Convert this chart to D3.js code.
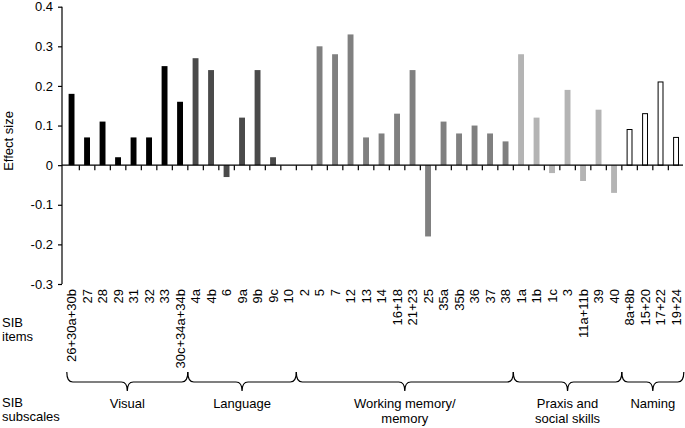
<!DOCTYPE html>
<html><head><meta charset="utf-8">
<script src="https://cdn.jsdelivr.net/npm/d3@7"></script>
<style>
body{margin:0;background:#fff;}
text{font-family:"Liberation Sans",Arial,Helvetica,sans-serif;fill:#000;}
</style></head>
<body>
<svg id="c" width="685" height="428"></svg>
<script>
const items = ["26+30a+30b","27","28","29","31","32","33","30c+34a+34b",
  "4a","4b","6","9a","9b","9c","10",
  "2","5","7","12","13","14","16+18","21+23","25","35a","35b","36","37","38",
  "1a","1b","1c","3","11a+11b","39","40",
  "8a+8b","15+20","17+22","19+24"];
const effects = [0.18,0.07,0.11,0.02,0.07,0.07,0.25,0.16,
  0.27,0.24,-0.03,0.12,0.24,0.02,0,
  0,0.30,0.28,0.33,0.07,0.08,0.13,0.24,-0.18,0.11,0.08,0.10,0.08,0.06,
  0.28,0.12,-0.02,0.19,-0.04,0.14,-0.07,
  0.09,0.13,0.21,0.07];
const subscales = ["Visual","Language","Working memory/\nmemory","Praxis and\nsocial skills","Naming"];
const subscaleSizes = [8,7,14,7,4];
const subscaleFills = ["#000000","#4a4a4a","#808080","#b4b4b4","#ffffff"];
const yTicks = [-0.3,-0.2,-0.1,0,0.1,0.2,0.3,0.4];
const yTickLabels = ["-0.3","-0.2","-0.1","0","0.1","0.2","0.3","0.4"];

const svg = d3.select("#c");
const x = d3.scaleBand().domain(items).range([63.8,683.8]).paddingInner(0.62).paddingOuter(0.31);
const step = x.step();
const y = d3.scaleLinear().domain([-0.3,0.4]).range([284,6.7]);

const groupOf = [];
subscaleSizes.forEach((n,g)=>{for(let i=0;i<n;i++) groupOf.push(g);});
const data = items.map((it,i)=>({item:it,v:effects[i],g:groupOf[i]}));

// bars
svg.append("g").selectAll("rect").data(data.filter(d=>d.v!==0)).join("rect")
  .attr("x",d=>x(d.item)+(d.g===4?0.5:0))
  .attr("width",d=>x.bandwidth()-(d.g===4?1:0))
  .attr("y",d=>y(Math.max(0,d.v)))
  .attr("height",d=>Math.abs(y(d.v)-y(0)))
  .attr("fill",d=>subscaleFills[d.g])
  .attr("stroke",d=>d.g===4?"#000":"none")
  .attr("stroke-width",1);

// y axis
const ya = svg.append("g").attr("transform","translate(62,0)")
  .call(d3.axisLeft(y).tickValues(yTicks).tickSize(4).tickPadding(5)
    .tickFormat((d,i)=>yTickLabels[i]));
ya.select(".domain").attr("stroke","#000").attr("stroke-width",1.2).attr("d","M-0,6.7V284");
ya.selectAll(".tick line").attr("stroke","#000").attr("stroke-width",1.2);
ya.selectAll("text").attr("font-size",13).attr("font-family","Liberation Sans, Arial, sans-serif");

// zero line with ticks between bands
const xa = svg.append("g");
xa.append("line").attr("x1",62).attr("x2",683).attr("y1",y(0)).attr("y2",y(0))
  .attr("stroke","#000").attr("stroke-width",1.2);
xa.selectAll("line.t").data(items.slice(1)).join("line").attr("class","t")
  .attr("x1",d=>x(d)-x.bandwidth()*0.81).attr("x2",d=>x(d)-x.bandwidth()*0.81)
  .attr("y1",y(0)).attr("y2",y(0)+5)
  .attr("stroke","#000").attr("stroke-width",1.2);

// item labels
svg.append("g").selectAll("text").data(items).join("text")
  .attr("transform",d=>`translate(${x(d)+x.bandwidth()/2},289) rotate(-90)`)
  .attr("dy","0.35em").attr("text-anchor","end").attr("font-size",13)
  .text(d=>d);

// y title
svg.append("text").attr("transform","translate(8,141) rotate(-90)")
  .attr("dy","0.35em").attr("text-anchor","middle").attr("font-size",13).text("Effect size");

// left labels
function twoLine(xp, yp, a, b, gap){
  svg.append("text").attr("x",xp).attr("y",yp).attr("font-size",13).text(a);
  svg.append("text").attr("x",xp).attr("y",yp+gap).attr("font-size",13).text(b);
}
twoLine(2,326.5,"SIB","items",14);
twoLine(2,406.5,"SIB","subscales",14);

// braces + subscale names
let start = 0;
const br = svg.append("g");
subscales.forEach((name,g)=>{
  const first = items[start], last = items[start+subscaleSizes[g]-1];
  let x0 = x(first) - (step-x.bandwidth())/2;
  const x1 = x(last) + x.bandwidth() + (step-x.bandwidth())/2;
  if(g===0) x0 += 3;
  const m = (x0+x1)/2, y0=372, y1=382, y2=391, r=6;
  br.append("path").attr("fill","none").attr("stroke","#000").attr("stroke-width",1.2)
    .attr("d",`M${x0},${y0} Q${x0},${y1} ${x0+r},${y1} L${m-r},${y1} Q${m},${y1} ${m},${y2} Q${m},${y1} ${m+r},${y1} L${x1-r},${y1} Q${x1},${y1} ${x1},${y0}`);
  const lines = name.split("\n");
  const t = br.append("text").attr("x",m).attr("y",408).attr("text-anchor","middle").attr("font-size",13);
  lines.forEach((ln,k)=>{
    t.append("tspan").attr("x",m).attr("y",408+k*15).text(ln);
  });
  start += subscaleSizes[g];
});
</script>
</body></html>
